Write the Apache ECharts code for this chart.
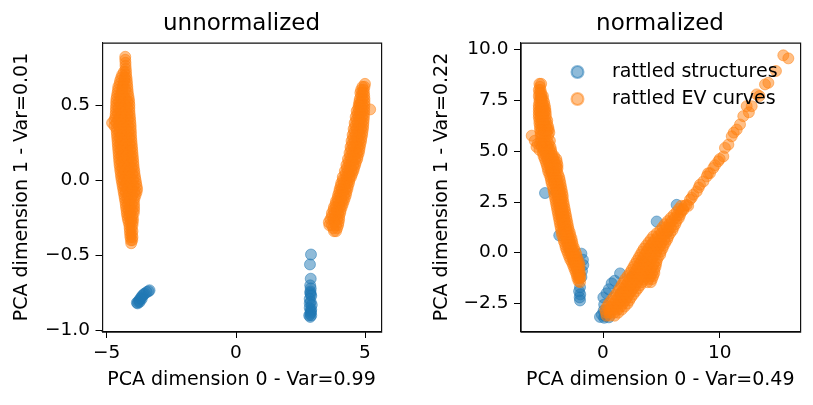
<!DOCTYPE html>
<html>
<head>
<meta charset="utf-8">
<script src="https://cdn.jsdelivr.net/npm/echarts@6/dist/echarts.min.js"></script>
<style>
  html, body { margin: 0; padding: 0; background: #fff; }
  #chart { width: 813px; height: 405px; }
</style>
</head>
<body>
<div id="chart"></div>
<script>
// tick labels
var leftXTicks = [-5, 0, 5];
var leftYTicks = [-1.0, -0.5, 0.0, 0.5];
var rightXTicks = [0, 10];
var rightYTicks = [-2.5, 0.0, 2.5, 5.0, 7.5, 10.0];

var seriesNames = ['rattled structures', 'rattled EV curves'];

// unnormalized: rattled structures (blue)
var unnormStructures = [
  [-3.83,-0.815],[-3.80,-0.82],[-3.78,-0.81],[-3.74,-0.80],[-3.72,-0.81],[-3.70,-0.79],
  [-3.66,-0.78],[-3.64,-0.79],[-3.62,-0.77],[-3.57,-0.76],[-3.52,-0.755],[-3.45,-0.745],
  [-3.38,-0.74],[-3.34,-0.733],
  [2.91,-0.495],[2.87,-0.561],[2.90,-0.656],[2.88,-0.70],[2.90,-0.72],[2.89,-0.74],
  [2.88,-0.75],[2.90,-0.76],[2.92,-0.77],[2.86,-0.79],[2.90,-0.81],[2.86,-0.82],
  [2.94,-0.83],[2.86,-0.85],[2.92,-0.86],[2.90,-0.87],[2.91,-0.88],[2.88,-0.89],
  [2.84,-0.90],[2.92,-0.90],[2.88,-0.91]
];

// unnormalized: rattled EV curves (orange)
var unnormCurves = [
  // left cluster
  [-4.28,0.82],[-4.28,0.80],[-4.27,0.78],[-4.27,0.76],[-4.26,0.74],
  [-4.33,0.72],[-4.25,0.72],
  [-4.40,0.70],[-4.25,0.70],
  [-4.44,0.68],[-4.30,0.68],[-4.23,0.68],
  [-4.48,0.66],[-4.32,0.66],[-4.22,0.66],
  [-4.50,0.64],[-4.35,0.64],[-4.21,0.64],
  [-4.55,0.62],[-4.38,0.62],[-4.20,0.62],
  [-4.56,0.60],[-4.40,0.60],[-4.28,0.60],[-4.19,0.60],
  [-4.58,0.58],[-4.40,0.58],[-4.18,0.58],
  [-4.60,0.56],[-4.48,0.56],[-4.35,0.56],[-4.16,0.56],
  [-4.62,0.54],[-4.44,0.54],[-4.26,0.54],[-4.14,0.54],
  [-4.63,0.52],[-4.52,0.52],[-4.36,0.52],[-4.20,0.52],[-4.13,0.52],
  [-4.63,0.50],[-4.45,0.50],[-4.28,0.50],[-4.12,0.50],
  [-4.64,0.48],[-4.54,0.48],[-4.37,0.48],[-4.20,0.48],[-4.12,0.48],
  [-4.64,0.46],[-4.46,0.46],[-4.28,0.46],[-4.12,0.46],
  [-4.65,0.44],[-4.56,0.44],[-4.38,0.44],[-4.20,0.44],[-4.11,0.44],
  [-4.66,0.42],[-4.48,0.42],[-4.30,0.42],[-4.10,0.42],
  [-4.70,0.40],[-4.55,0.40],[-4.38,0.40],[-4.18,0.40],[-4.09,0.40],
  [-4.79,0.38],[-4.62,0.38],[-4.45,0.38],[-4.27,0.38],[-4.08,0.38],
  [-4.70,0.36],[-4.53,0.36],[-4.35,0.36],[-4.17,0.36],[-4.07,0.36],
  [-4.62,0.34],[-4.44,0.34],[-4.26,0.34],[-4.07,0.34],
  [-4.61,0.32],[-4.51,0.32],[-4.33,0.32],[-4.15,0.32],[-4.06,0.32],
  [-4.60,0.30],[-4.42,0.30],[-4.24,0.30],[-4.06,0.30],
  [-4.59,0.28],[-4.49,0.28],[-4.31,0.28],[-4.13,0.28],[-4.05,0.28],
  [-4.58,0.26],[-4.40,0.26],[-4.22,0.26],[-4.04,0.26],
  [-4.57,0.24],[-4.47,0.24],[-4.29,0.24],[-4.11,0.24],[-4.03,0.24],
  [-4.56,0.22],[-4.38,0.22],[-4.20,0.22],[-4.02,0.22],
  [-4.55,0.20],[-4.45,0.20],[-4.27,0.20],[-4.09,0.20],[-4.01,0.20],
  [-4.54,0.18],[-4.36,0.18],[-4.18,0.18],[-4.00,0.18],
  [-4.53,0.16],[-4.43,0.16],[-4.25,0.16],[-4.07,0.16],[-3.99,0.16],
  [-4.52,0.14],[-4.34,0.14],[-4.16,0.14],[-3.98,0.14],
  [-4.51,0.12],[-4.41,0.12],[-4.23,0.12],[-4.05,0.12],[-3.97,0.12],
  [-4.50,0.10],[-4.32,0.10],[-4.14,0.10],[-3.96,0.10],
  [-4.48,0.08],[-4.39,0.08],[-4.21,0.08],[-4.03,0.08],[-3.95,0.08],
  [-4.47,0.06],[-4.30,0.06],[-4.12,0.06],[-3.93,0.06],
  [-4.45,0.04],[-4.36,0.04],[-4.19,0.04],[-4.01,0.04],[-3.92,0.04],
  [-4.44,0.02],[-4.27,0.02],[-4.10,0.02],[-3.90,0.02],
  [-4.42,0.00],[-4.33,0.00],[-4.16,0.00],[-3.98,0.00],[-3.88,0.00],
  [-4.40,-0.02],[-4.24,-0.02],[-4.06,-0.02],[-3.86,-0.02],
  [-4.38,-0.04],[-4.30,-0.04],[-4.13,-0.04],[-3.95,-0.04],[-3.84,-0.04],
  [-4.36,-0.06],[-4.20,-0.06],[-4.02,-0.06],[-3.82,-0.06],
  [-4.34,-0.08],[-4.26,-0.08],[-4.09,-0.08],[-3.92,-0.08],[-3.84,-0.08],
  [-4.32,-0.10],[-4.16,-0.10],[-4.00,-0.10],[-3.88,-0.10],
  [-4.30,-0.12],[-4.20,-0.12],[-4.05,-0.12],[-3.92,-0.12],
  [-4.28,-0.14],[-4.12,-0.14],[-3.95,-0.14],
  [-4.26,-0.16],[-4.17,-0.16],[-4.03,-0.16],[-3.94,-0.16],
  [-4.25,-0.18],[-4.10,-0.18],[-3.94,-0.18],
  [-4.23,-0.20],[-4.15,-0.20],[-4.02,-0.20],[-3.94,-0.20],
  [-4.22,-0.22],[-4.08,-0.22],[-3.95,-0.22],
  [-4.20,-0.24],[-4.12,-0.24],[-4.00,-0.24],
  [-4.18,-0.26],[-4.05,-0.26],[-3.98,-0.26],
  [-4.15,-0.28],[-4.06,-0.28],[-3.99,-0.28],
  [-4.12,-0.30],[-4.00,-0.30],
  [-4.11,-0.32],[-4.03,-0.32],
  [-4.10,-0.34],[-4.00,-0.34],
  [-4.09,-0.36],[-4.02,-0.36],
  [-4.08,-0.38],[-4.00,-0.38],
  [-4.06,-0.40],[-4.01,-0.40],
  [-4.05,-0.42],
  // right cluster
  [5.00,0.64],
  [4.98,0.62],[4.90,0.62],
  [4.95,0.60],[4.85,0.60],
  [4.96,0.58],[4.90,0.58],[4.82,0.58],
  [4.97,0.56],[4.85,0.56],
  [4.98,0.54],[4.91,0.54],[4.80,0.54],
  [4.98,0.52],[4.85,0.52],[4.78,0.52],
  [4.98,0.50],[4.90,0.50],[4.80,0.50],[4.76,0.50],
  [5.20,0.47],[4.97,0.48],[4.84,0.48],[4.74,0.48],
  [4.97,0.46],[4.89,0.46],[4.77,0.46],[4.68,0.46],
  [4.96,0.44],[4.82,0.44],[4.70,0.44],
  [4.96,0.42],[4.88,0.42],[4.75,0.42],[4.64,0.42],
  [4.95,0.40],[4.80,0.40],[4.66,0.40],
  [4.94,0.38],[4.86,0.38],[4.72,0.38],[4.60,0.38],
  [4.93,0.36],[4.77,0.36],[4.62,0.36],
  [4.92,0.34],[4.84,0.34],[4.68,0.34],[4.56,0.34],
  [4.90,0.32],[4.74,0.32],[4.58,0.32],
  [4.89,0.30],[4.80,0.30],[4.64,0.30],[4.52,0.30],
  [4.86,0.28],[4.70,0.28],[4.54,0.28],
  [4.85,0.26],[4.76,0.26],[4.60,0.26],[4.48,0.26],
  [4.82,0.24],[4.66,0.24],[4.50,0.24],
  [4.80,0.22],[4.72,0.22],[4.56,0.22],[4.44,0.22],
  [4.78,0.20],[4.62,0.20],[4.46,0.20],
  [4.76,0.18],[4.68,0.18],[4.52,0.18],[4.40,0.18],
  [4.72,0.16],[4.57,0.16],[4.42,0.16],
  [4.70,0.14],[4.62,0.14],[4.46,0.14],[4.34,0.14],
  [4.65,0.12],[4.50,0.12],[4.36,0.12],
  [4.62,0.10],[4.55,0.10],[4.40,0.10],[4.28,0.10],
  [4.58,0.08],[4.44,0.08],[4.30,0.08],
  [4.55,0.06],[4.48,0.06],[4.34,0.06],[4.22,0.06],
  [4.50,0.04],[4.37,0.04],[4.24,0.04],
  [4.46,0.02],[4.40,0.02],[4.28,0.02],[4.14,0.02],
  [4.40,0.00],[4.28,0.00],[4.14,0.00],
  [4.38,-0.02],[4.30,-0.02],[4.18,-0.02],[4.08,-0.02],
  [4.34,-0.04],[4.20,-0.04],[4.06,-0.04],
  [4.32,-0.06],[4.24,-0.06],[4.10,-0.06],[4.02,-0.06],
  [4.28,-0.08],[4.14,-0.08],[4.00,-0.08],
  [4.26,-0.10],[4.18,-0.10],[4.04,-0.10],[3.96,-0.10],
  [4.22,-0.12],[4.08,-0.12],[3.94,-0.12],
  [4.18,-0.14],[4.10,-0.14],[3.96,-0.14],[3.88,-0.14],
  [4.14,-0.16],[4.00,-0.16],[3.86,-0.16],
  [4.10,-0.18],[4.02,-0.18],[3.88,-0.18],[3.80,-0.18],
  [4.06,-0.20],[3.92,-0.20],[3.78,-0.20],
  [4.04,-0.22],[3.96,-0.22],[3.82,-0.22],[3.72,-0.22],
  [4.00,-0.24],[3.86,-0.24],[3.72,-0.24],
  [4.00,-0.26],[3.92,-0.26],[3.78,-0.26],[3.66,-0.26],
  [3.98,-0.28],[3.82,-0.28],[3.60,-0.28],
  [3.96,-0.30],[3.88,-0.30],[3.72,-0.30],[3.62,-0.30],
  [3.92,-0.32],[3.77,-0.32],
  [3.88,-0.34],[3.80,-0.34]
];

// normalized: rattled structures (blue)
var normStructures = [
  [-5.3,7.6],[-5.1,6.4],[-4.8,5.2],[-4.4,4.0],[-4.0,3.0],[-3.6,2.0],[-3.2,1.0],
  [-2.8,0.2],[-2.5,-0.4],
  [-4.97,2.93],[-3.75,0.85],[-1.85,-0.05],[-1.72,-0.35],[-1.69,-0.61],[-1.80,-0.9],
  [-1.85,-1.2],[-1.97,-1.7],[-2.05,-1.9],[-1.95,-2.05],[-2.0,-2.2],[-1.97,-2.35],
  [-0.26,-3.16],[-0.1,-3.05],[0.05,-2.85],[0.1,-2.55],[0.03,-2.2],[0.3,-2.0],
  [0.5,-1.8],[0.74,-1.51],[1.0,-1.38],[1.46,-1.02],[0.2,-3.12],[0.5,-3.18],[0.1,-3.2],
  [1.5,-2.0],[2.5,-1.2],[3.5,-0.5],[4.5,0.3],[5.5,1.0],
  [4.6,1.53],[6.31,2.35]
];

// normalized: rattled EV curves (orange)
var normCurves = [
  // left branch
  [-5.45,8.3],[-5.3,8.3],
  [-5.4,8.15],
  [-5.5,8.0],[-5.35,8.0],
  [-5.45,7.85],[-5.3,7.85],
  [-5.5,7.7],[-5.3,7.7],[-5.15,7.7],
  [-5.45,7.55],[-5.3,7.55],[-5.15,7.55],
  [-5.45,7.4],[-5.25,7.4],[-5.05,7.4],
  [-5.5,7.25],[-5.35,7.25],[-5.15,7.25],[-5.0,7.25],
  [-5.5,7.1],[-5.3,7.1],[-5.1,7.1],[-4.95,7.1],
  [-5.5,6.95],[-5.4,6.95],[-5.2,6.95],[-5.0,6.95],[-4.92,6.95],
  [-5.5,6.8],[-5.3,6.8],[-5.1,6.8],[-4.9,6.8],
  [-5.5,6.65],[-5.35,6.65],[-5.15,6.65],[-4.9,6.65],
  [-5.45,6.5],[-5.2,6.5],[-4.95,6.5],[-4.78,6.5],
  [-5.45,6.35],[-5.3,6.35],[-5.05,6.35],[-4.8,6.35],
  [-5.4,6.2],[-5.15,6.2],[-4.9,6.2],[-4.7,6.2],
  [-5.4,6.05],[-5.25,6.05],[-5.0,6.05],[-4.75,6.05],[-4.65,6.05],
  [-5.35,5.9],[-5.1,5.9],[-4.85,5.9],[-4.6,5.9],
  [-6.11,5.75],[-5.35,5.75],[-5.2,5.75],[-4.95,5.75],[-4.7,5.75],
  [-5.85,5.5],[-5.3,5.5],[-5.05,5.5],[-4.8,5.5],[-4.55,5.5],
  [-5.6,5.35],[-5.4,5.35],[-5.15,5.35],[-4.9,5.35],[-4.65,5.35],
  [-5.7,5.2],[-5.25,5.2],[-5.0,5.2],[-4.75,5.2],[-4.5,5.2],
  [-5.45,5.05],[-5.1,5.05],[-4.85,5.05],[-4.6,5.05],[-4.45,5.05],
  [-5.15,4.9],[-4.9,4.9],[-4.65,4.9],[-4.4,4.9],
  [-5.1,4.75],[-4.85,4.75],[-4.6,4.75],[-4.35,4.75],[-4.2,4.75],
  [-5.0,4.6],[-4.75,4.6],[-4.5,4.6],[-4.25,4.6],[-4.0,4.6],
  [-4.9,4.45],[-4.65,4.45],[-4.4,4.45],[-4.15,4.45],[-3.95,4.45],
  [-4.82,4.3],[-4.55,4.3],[-4.3,4.3],[-4.05,4.3],[-3.9,4.3],
  [-4.75,4.15],[-4.5,4.15],[-4.25,4.15],[-4.0,4.15],[-3.9,4.15],
  [-4.7,4.0],[-4.45,4.0],[-4.2,4.0],[-3.95,4.0],
  [-4.6,3.85],[-4.35,3.85],[-4.1,3.85],[-3.85,3.85],
  [-4.5,3.7],[-4.25,3.7],[-4.0,3.7],[-3.75,3.7],
  [-4.45,3.55],[-4.2,3.55],[-3.95,3.55],[-3.7,3.55],
  [-4.4,3.4],[-4.15,3.4],[-3.9,3.4],[-3.65,3.4],
  [-4.3,3.25],[-4.05,3.25],[-3.8,3.25],[-3.6,3.25],
  [-4.25,3.1],[-4.0,3.1],[-3.75,3.1],[-3.55,3.1],
  [-4.2,2.95],[-3.95,2.95],[-3.7,2.95],[-3.5,2.95],
  [-4.15,2.8],[-3.9,2.8],[-3.65,2.8],[-3.45,2.8],
  [-4.1,2.65],[-3.85,2.65],[-3.6,2.65],[-3.45,2.65],
  [-4.05,2.5],[-3.8,2.5],[-3.6,2.5],[-3.4,2.5],
  [-4.0,2.35],[-3.75,2.35],[-3.55,2.35],[-3.35,2.35],
  [-3.95,2.2],[-3.7,2.2],[-3.5,2.2],[-3.3,2.2],
  [-3.9,2.05],[-3.65,2.05],[-3.45,2.05],[-3.25,2.05],
  [-3.85,1.9],[-3.6,1.9],[-3.4,1.9],[-3.2,1.9],
  [-3.8,1.75],[-3.55,1.75],[-3.35,1.75],[-3.15,1.75],
  [-3.75,1.6],[-3.5,1.6],[-3.3,1.6],[-3.1,1.6],
  [-3.7,1.45],[-3.45,1.45],[-3.25,1.45],[-3.05,1.45],
  [-3.65,1.3],[-3.4,1.3],[-3.2,1.3],[-3.0,1.3],
  [-3.6,1.15],[-3.35,1.15],[-3.15,1.15],[-2.95,1.15],
  [-3.55,1.0],[-3.3,1.0],[-3.05,1.0],[-2.85,1.0],
  [-3.5,0.85],[-3.25,0.85],[-3.0,0.85],[-2.8,0.85],
  [-3.4,0.7],[-3.15,0.7],[-2.9,0.7],[-2.7,0.7],
  [-3.35,0.55],[-3.1,0.55],[-2.85,0.55],[-2.65,0.55],
  [-3.25,0.4],[-3.0,0.4],[-2.8,0.4],[-2.6,0.4],
  [-3.2,0.25],[-2.95,0.25],[-2.7,0.25],[-2.5,0.25],
  [-3.1,0.1],[-2.85,0.1],[-2.6,0.1],[-2.4,0.1],
  [-3.0,-0.05],[-2.75,-0.05],[-2.5,-0.05],[-2.3,-0.05],
  [-2.9,-0.2],[-2.65,-0.2],[-2.45,-0.2],[-2.25,-0.2],
  [-2.8,-0.35],[-2.55,-0.35],[-2.35,-0.35],[-2.15,-0.35],
  [-2.65,-0.5],[-2.45,-0.5],[-2.25,-0.5],[-2.06,-0.5],
  [-2.55,-0.65],[-2.35,-0.65],[-2.15,-0.65],[-2.0,-0.65],
  [-2.45,-0.8],[-2.25,-0.8],[-2.05,-0.8],
  [-2.35,-0.95],[-2.15,-0.95],[-2.0,-0.95],
  [-2.25,-1.1],[-2.1,-1.1],[-1.95,-1.1],
  [-2.2,-1.25],[-2.05,-1.25],[-1.95,-1.25],
  [-2.1,-1.4],[-1.97,-1.45],
  // right branch, dense part
  [0.3,-3.1],[0.6,-3.1],[1.0,-3.1],
  [0.25,-2.95],[0.6,-2.95],[0.95,-2.95],[1.3,-2.95],
  [0.2,-2.8],[0.55,-2.8],[0.9,-2.8],[1.25,-2.8],[1.6,-2.8],
  [0.35,-2.65],[0.7,-2.65],[1.1,-2.65],[1.5,-2.65],[1.85,-2.65],
  [0.5,-2.5],[0.9,-2.5],[1.3,-2.5],[1.7,-2.5],[2.1,-2.5],
  [0.7,-2.35],[1.1,-2.35],[1.5,-2.35],[1.9,-2.35],[2.25,-2.35],
  [0.9,-2.2],[1.3,-2.2],[1.7,-2.2],[2.05,-2.2],[2.4,-2.2],
  [1.1,-2.05],[1.5,-2.05],[1.85,-2.05],[2.2,-2.05],[2.6,-2.05],
  [1.3,-1.9],[1.7,-1.9],[2.05,-1.9],[2.4,-1.9],[2.8,-1.9],
  [1.45,-1.75],[1.8,-1.75],[2.2,-1.75],[2.6,-1.75],[3.0,-1.75],
  [1.6,-1.6],[2.0,-1.6],[2.4,-1.6],[2.8,-1.6],[3.2,-1.6],
  [1.75,-1.45],[2.15,-1.45],[2.55,-1.45],[2.95,-1.45],[3.35,-1.45],[3.8,-1.45],[4.1,-1.45],
  [1.9,-1.3],[2.3,-1.3],[2.7,-1.3],[3.1,-1.3],[3.5,-1.3],[3.9,-1.3],[4.2,-1.3],
  [2.1,-1.15],[2.5,-1.15],[2.9,-1.15],[3.3,-1.15],[3.7,-1.15],[4.05,-1.15],[4.3,-1.15],
  [2.3,-1.0],[2.7,-1.0],[3.1,-1.0],[3.5,-1.0],[3.9,-1.0],[4.2,-1.0],[4.4,-1.0],
  [2.45,-0.85],[2.85,-0.85],[3.25,-0.85],[3.65,-0.85],[4.05,-0.85],[4.4,-0.85],
  [2.6,-0.7],[3.0,-0.7],[3.4,-0.7],[3.8,-0.7],[4.2,-0.7],[4.5,-0.7],
  [2.75,-0.55],[3.15,-0.55],[3.55,-0.55],[3.95,-0.55],[4.35,-0.55],[4.55,-0.55],
  [2.9,-0.4],[3.3,-0.4],[3.7,-0.4],[4.1,-0.4],[4.6,-0.4],
  [3.05,-0.25],[3.45,-0.25],[3.85,-0.25],[4.25,-0.25],[4.7,-0.25],
  [3.2,-0.1],[3.6,-0.1],[4.0,-0.1],[4.5,-0.1],[4.9,-0.1],
  [3.35,0.05],[3.75,0.05],[4.15,0.05],[4.55,0.05],[4.95,0.05],
  [3.5,0.2],[3.9,0.2],[4.3,0.2],[4.7,0.2],[5.1,0.2],
  [3.7,0.35],[4.1,0.35],[4.5,0.35],[4.9,0.35],[5.2,0.35],
  [3.9,0.5],[4.3,0.5],[4.7,0.5],[5.0,0.5],[5.35,0.5],
  [4.1,0.65],[4.5,0.65],[4.9,0.65],[5.25,0.65],[5.5,0.65],
  [4.3,0.8],[4.7,0.8],[5.1,0.8],[5.6,0.8],
  [4.6,0.95],[5.0,0.95],[5.35,0.95],[5.75,0.95],
  [4.9,1.1],[5.25,1.1],[5.6,1.1],[5.95,1.1],
  [5.1,1.25],[5.45,1.25],[5.8,1.25],[6.05,1.25],
  [5.3,1.4],[5.7,1.4],[6.2,1.4],
  [5.55,1.55],[5.9,1.55],[6.3,1.55],
  [5.8,1.7],[6.15,1.7],[6.5,1.7],
  [6.05,1.85],[6.4,1.85],[6.6,1.85],
  [6.3,2.0],[6.7,2.0],
  [6.5,2.15],[6.85,2.15],
  [6.7,2.3],[7.0,2.3],
  // right branch, sparse tail
  [6.88,2.1],[7.17,2.35],[7.3,2.3],[7.45,2.6],[7.6,2.7],[7.74,2.85],[8.03,3.01],
  [8.2,3.2],[8.31,3.34],[8.6,3.5],[8.89,3.75],[9.0,3.9],[9.17,3.91],[9.45,4.16],
  [9.6,4.3],[9.88,4.49],[10.0,4.6],[10.31,4.73],[10.45,5.15],[10.74,5.31],[11.03,5.72],
  [11.2,5.9],[11.46,6.05],[11.74,6.3],[12.02,6.71],[12.31,7.2],[12.5,6.9],[12.74,7.2],
  [13.17,7.78],[13.4,7.7],[13.88,8.27],[14.17,8.35],[14.82,8.93],[15.45,9.7],[15.88,9.55]
];

var FONT = 'DejaVu Sans';
var BLUE = '#1f77b4';
var ORANGE = '#ff7f0e';
var INK = '#000';

// plot boxes (pixels) and axis ranges [xmin, xmax, ymin, ymax]
var boxes = [
  { left: 102, top: 42.5, width: 279, height: 289 },
  { left: 520.5, top: 42.5, width: 279.5, height: 289 }
];
var leftRange = [-5.18, 5.62, -1.007, 0.915];
var rightRange = [-7.07, 16.88, -3.876, 10.33];

function fmt1(v) {
  return Number(v).toFixed(1).replace('-', '\u2212');
}
function fmt0(v) {
  return String(Math.round(v)).replace('-', '\u2212');
}

function makeAxis(gridIndex, min, max, ticks, formatter, name, nameGap, isY) {
  return {
    type: 'value',
    gridIndex: gridIndex,
    min: min,
    max: max,
    name: name,
    nameLocation: 'middle',
    nameGap: nameGap,
    nameRotate: isY ? 90 : 0,
    nameTextStyle: { fontFamily: FONT, fontSize: 19, color: INK },
    splitLine: { show: false },
    axisLine: { show: true, onZero: false, lineStyle: { color: INK, width: 1 } },
    axisTick: { show: true, inside: false, length: 6.5, customValues: ticks,
                lineStyle: { color: INK, width: 1 } },
    axisLabel: { show: true, margin: 12, customValues: ticks, formatter: formatter,
                 fontFamily: FONT, fontSize: 18.5, color: INK }
  };
}

function scatter(name, data, color, idx) {
  return {
    name: name,
    type: 'scatter',
    xAxisIndex: idx,
    yAxisIndex: idx,
    data: data,
    symbol: 'circle',
    symbolSize: 11,
    silent: true,
    itemStyle: { color: color, opacity: 0.5, borderColor: color, borderWidth: 1 },
    emphasis: { disabled: true }
  };
}

// top and right spines: a stroked box on each plot area
function frame(b) {
  return {
    type: 'rect',
    silent: true,
    z: 100,
    left: b.left,
    top: b.top,
    shape: { x: 0, y: 0, width: b.width, height: b.height },
    style: { fill: 'transparent', stroke: '#111', lineWidth: 1.2 }
  };
}

var chart = echarts.init(document.getElementById('chart'), null, { renderer: 'canvas' });
chart.setOption({
  animation: false,
  backgroundColor: '#fff',
  title: [
    { text: 'unnormalized', left: 241.5, top: 13, textAlign: 'center', padding: 0,
      textStyle: { fontFamily: FONT, fontSize: 23, fontWeight: 'normal', color: INK } },
    { text: 'normalized', left: 660, top: 13, textAlign: 'center', padding: 0,
      textStyle: { fontFamily: FONT, fontSize: 23, fontWeight: 'normal', color: INK } }
  ],
  legend: {
    data: seriesNames,
    orient: 'vertical',
    left: 570.5,
    top: 62,
    padding: 0,
    icon: 'circle',
    itemWidth: 59,
    itemHeight: 12,
    itemGap: 7,
    selectedMode: false,
    itemStyle: { opacity: 0.5 },
    textStyle: { fontFamily: FONT, fontSize: 19, color: INK, lineHeight: 20 }
  },
  grid: boxes.map(function (b) {
    return { left: b.left, top: b.top, width: b.width, height: b.height };
  }),
  graphic: { elements: [frame(boxes[0]), frame(boxes[1])] },
  xAxis: [
    makeAxis(0, leftRange[0], leftRange[1], leftXTicks, fmt0, 'PCA dimension 0 - Var=0.99', 39, false),
    makeAxis(1, rightRange[0], rightRange[1], rightXTicks, fmt0, 'PCA dimension 0 - Var=0.49', 39, false)
  ],
  yAxis: [
    makeAxis(0, leftRange[2], leftRange[3], leftYTicks, fmt1, 'PCA dimension 1 - Var=0.01', 70, true),
    makeAxis(1, rightRange[2], rightRange[3], rightYTicks, fmt1, 'PCA dimension 1 - Var=0.22', 69, true)
  ],
  series: [
    scatter(seriesNames[0], unnormStructures, BLUE, 0),
    scatter(seriesNames[1], unnormCurves, ORANGE, 0),
    scatter(seriesNames[0], normStructures, BLUE, 1),
    scatter(seriesNames[1], normCurves, ORANGE, 1)
  ]
});
</script>
</body>
</html>
